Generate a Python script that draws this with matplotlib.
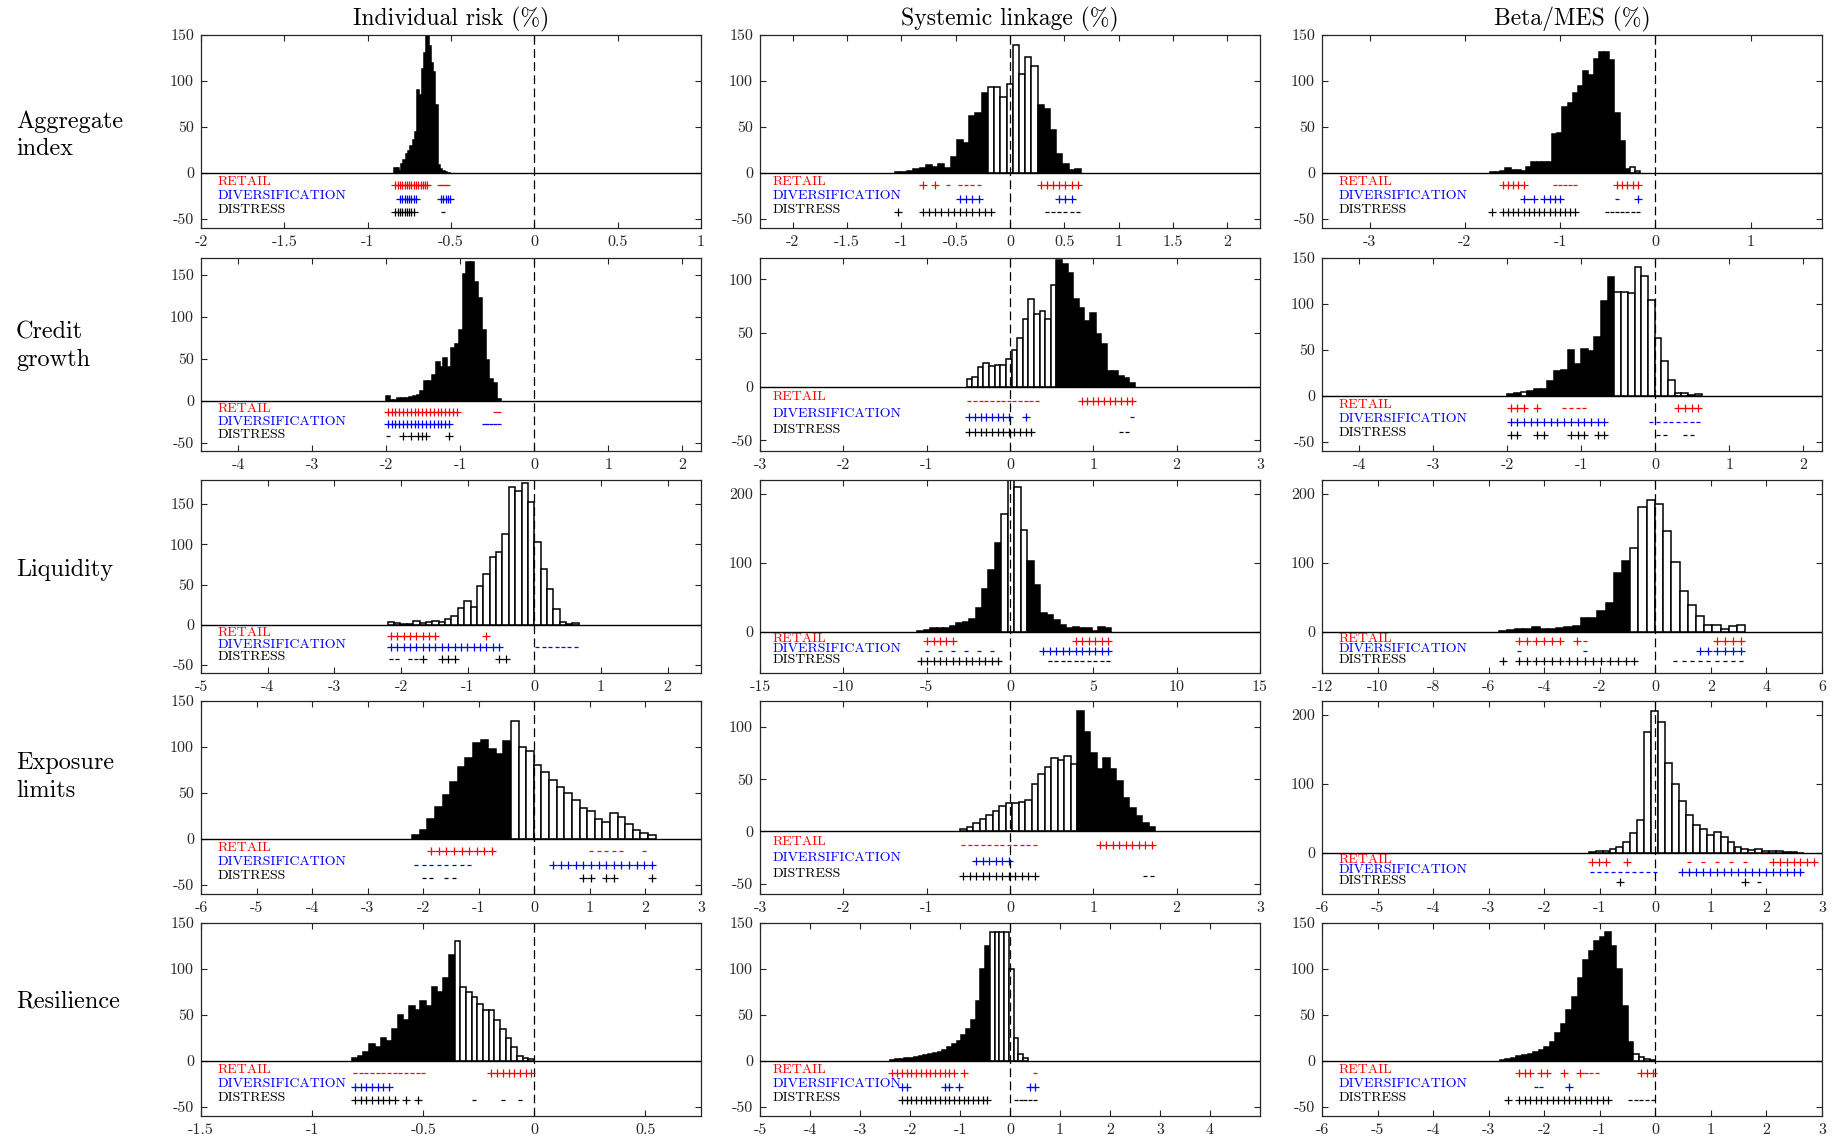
import numpy as np
import matplotlib
matplotlib.use("Agg")
import matplotlib.pyplot as plt
import matplotlib.transforms as mtransforms

plt.rcParams['font.family'] = ['cmr10', 'DejaVu Serif']
plt.rcParams['axes.unicode_minus'] = False

col_titles = ['Individual risk (%)', 'Systemic linkage (%)', 'Beta/MES (%)']
row_labels = ['Aggregate\nindex', 'Credit\ngrowth', 'Liquidity', 'Exposure\nlimits', 'Resilience']
mark_labels = ['RETAIL', 'DIVERSIFICATION', 'DISTRESS']
mark_colors = ['#ff0000', '#0000ff', '#000000']

# ---------------- Row 1 : Aggregate index ----------------
agg_ind_start, agg_ind_width = -0.84, 0.0137
agg_ind_counts = [5, 5, 2, 10, 14, 20, 24, 29, 36, 45, 90, 85, 113, 130, 160, 138, 120, 110, 74, 9, 4, 2, 1, 0, 0]
agg_ind_fill = 'b' * 25
agg_ind_retail = '+' * 15 + ' ' * 4 + '-' * 5
agg_ind_div = '  ' + '+' * 8 + ' ' * 10 + '+' * 5
agg_ind_dist = '+' * 9 + ' ' * 12 + '-'

agg_sys_start, agg_sys_width = -1.06, 0.0571
agg_sys_counts = [1, 0.5, 2, 4, 5, 9, 6, 10, 5, 17, 36, 32, 62, 65, 87, 93, 93, 82, 97, 139, 108, 126, 116, 74, 70, 47, 21, 10, 3, 4]
agg_sys_fill = 'b' * 15 + 'w' * 8 + 'b' * 7
agg_sys_retail = '    + + - ----' + ' ' * 9 + '+' * 7
agg_sys_div = ' ' * 10 + '++++' + ' ' * 12 + '+++'
agg_sys_dist = '+   ' + '+' * 12 + ' ' * 8 + '-' * 6

agg_beta_start, agg_beta_width = -1.738, 0.0545
agg_beta_counts = [1, 0.5, 2, 5, 3.5, 3, 2, 6, 12, 12, 12, 12, 42, 43, 72, 76, 87, 94, 111, 106, 124, 131, 131, 123, 65, 35, 4, 6, 2]
agg_beta_fill = 'b' * 27 + 'w' * 2
agg_beta_retail = '  +++++     -----       +++++'
agg_beta_div = '      +-+ ++++          -   +'
agg_beta_dist = '+ ' + '+' * 15 + ' ' * 5 + '-' * 7

# ---------------- Row 2 : Credit growth ----------------
cred_ind_start, cred_ind_width = -2.005, 0.0518
cred_ind_counts = [5, 1, 1, 3, 3, 3, 4, 6, 7, 11, 23, 23, 30, 46, 40, 51, 40, 63, 68, 84, 151, 165, 165, 141, 122, 84, 48, 26, 21, 2]
cred_ind_fill = 'b' * 30
cred_ind_retail = '+' * 19 + ' ' * 9 + '--'
cred_ind_div = '+' * 17 + ' ' * 8 + '-' * 5
cred_ind_dist = '-   + + +++     +'

cred_sys_start, cred_sys_width = -0.52, 0.0673
cred_sys_counts = [7, 9, 18, 22, 19, 20, 20, 26, 34, 45, 63, 82, 68, 71, 63, 95, 118, 114, 106, 82, 73, 61, 69, 49, 40, 15, 15, 10, 8, 3]
cred_sys_fill = 'w' * 16 + 'b' * 14
cred_sys_retail = '-' * 13 + ' ' * 7 + '+' * 10
cred_sys_div = '+' * 8 + '  +' + ' ' * 18 + '-'
cred_sys_dist = '+' * 12 + ' ' * 15 + '--'

cred_beta_start, cred_beta_width = -2.0, 0.0905
cred_beta_counts = [2, 3, 4, 5, 8, 8, 16, 27, 28, 50, 35, 51, 49, 64, 103, 129, 113, 113, 112, 140, 130, 104, 63, 38, 17, 3, 3, 1, 2]
cred_beta_fill = 'bbw' + 'b' * 13 + 'w' * 13
cred_beta_retail = '+++ +   ----' + ' ' * 13 + '++++'
cred_beta_div = '+' * 15 + ' ' * 6 + '-' * 8
cred_beta_dist = '++  ++   +++ ++       --  --'

# ---------------- Row 3 : Liquidity ----------------
liq_ind_start, liq_ind_width = -2.2, 0.0956
liq_ind_counts = [3, 2, 0.5, 1, 5, 2.5, 4, 5, 4, 7, 11, 21, 29, 22, 48, 63, 84, 90, 113, 171, 166, 176, 153, 103, 69, 45, 19, 3, 1, 2]
liq_ind_fill = 'w' * 30
liq_ind_retail = '+' * 8 + ' ' * 7 + '+'
liq_ind_div = '+' * 18 + ' ' * 5 + '-' * 7
liq_ind_dist = '-- --+  +++      ++'

liq_sys_start, liq_sys_width = -5.56, 0.388
liq_sys_counts = [1, 2.5, 6, 5, 5, 8, 12, 14, 18, 34, 62, 90, 128, 171, 235, 210, 147, 103, 68, 27, 24, 17, 9, 5, 7, 6, 5, 1, 7, 5]
liq_sys_fill = 'b' * 13 + 'w' * 4 + 'b' * 13
liq_sys_retail = ' +++++' + ' ' * 18 + '+' * 6
liq_sys_div = ' - - - - - -' + ' ' * 7 + '+' * 11
liq_sys_dist = '+' * 13 + ' ' * 7 + '-' * 10

liq_beta_start, liq_beta_width = -5.64, 0.296
liq_beta_counts = [1.5, 2.5, 4, 4, 7, 4.5, 4, 6, 7, 8, 20, 20, 30, 42, 85, 102, 122, 181, 191, 185, 146, 101, 59, 38, 23, 10, 9, 4, 8, 10]
liq_beta_fill = 'b' * 16 + 'w' * 14
liq_beta_retail = '  ++++++ +-' + ' ' * 15 + '++++'
liq_beta_div = '  -       -' + ' ' * 13 + '+' * 6
liq_beta_dist = '+ ' + '+' * 15 + ' ' * 4 + '-' * 9

# ---------------- Row 4 : Exposure limits ----------------
exp_ind_start, exp_ind_width = -2.2, 0.137
exp_ind_counts = [4, 10, 22, 35, 48, 62, 78, 88, 104, 108, 98, 92, 106, 128, 100, 96, 80, 73, 64, 56, 50, 42, 34, 30, 22, 18, 28, 24, 16, 10, 6, 4]
exp_ind_fill = 'b' * 13 + 'w' * 19
exp_ind_retail = '  ' + '+' * 9 + ' ' * 12 + '-----  -'
exp_ind_div = '-' * 8 + ' ' * 10 + '+' * 14
exp_ind_dist = ' -- --' + ' ' * 16 + '++ ++    +'

exp_sys_start, exp_sys_width = -0.6, 0.078
exp_sys_counts = [2, 4, 8, 12, 16, 20, 24, 27, 27, 28, 30, 45, 55, 62, 70, 68, 72, 65, 115, 95, 75, 60, 70, 60, 48, 32, 22, 15, 8, 4]
exp_sys_fill = 'w' * 18 + 'b' * 12
exp_sys_retail = '-' * 12 + ' ' * 9 + '+' * 9
exp_sys_div = '  ' + '+' * 6
exp_sys_dist = '+' * 12 + ' ' * 16 + '--'

exp_beta_start, exp_beta_width = -1.2, 0.125
exp_beta_counts = [1, 2, 3, 5, 8, 15, 28, 48, 175, 205, 190, 130, 100, 75, 55, 40, 35, 25, 30, 22, 15, 8, 5, 4, 6, 3, 2, 2, 1, 1, 0]
exp_beta_fill = 'w' * 31
exp_beta_retail = '+++  +' + ' ' * 8 + '- - - - - ' + ' ' * 2 + '+' * 7
exp_beta_div = '-' * 10 + '   ' + '+' * 18
exp_beta_dist = '    +' + ' ' * 17 + '+ -'

# ---------------- Row 5 : Resilience ----------------
res_ind_start, res_ind_width = -0.82, 0.0256
res_ind_counts = [3, 5, 10, 18, 15, 25, 22, 35, 50, 45, 60, 55, 65, 60, 80, 75, 90, 115, 130, 80, 75, 70, 62, 55, 55, 45, 35, 25, 15, 5, 3, 2]
res_ind_fill = 'b' * 18 + 'w' * 14
res_ind_retail = '-' * 13 + ' ' * 11 + '+' * 8
res_ind_div = '+' * 7
res_ind_dist = '+' * 8 + ' + +' + ' ' * 9 + '-    -  -'

res_sys_start, res_sys_width = -2.4, 0.095
res_sys_counts = [1, 2, 2, 3, 3, 4, 5, 6, 8, 9, 10, 12, 15, 18, 22, 28, 35, 45, 65, 100, 125, 140, 140, 140, 140, 100, 25, 8, 3]
res_sys_fill = 'b' * 21 + 'w' * 8
res_sys_retail = '+' * 14 + ' +' + ' ' * 14 + '-'
res_sys_div = '  ++' + ' ' * 7 + '++ +' + ' ' * 14 + '++'
res_sys_dist = '  ' + '+' * 19 + ' ' * 5 + '-----'

res_beta_start, res_beta_width = -2.8, 0.1
res_beta_counts = [1, 2, 3, 5, 6, 8, 10, 12, 15, 20, 30, 40, 55, 70, 90, 110, 120, 130, 135, 140, 125, 100, 60, 20, 8, 4, 2, 1]
res_beta_fill = 'b' * 24 + 'w' * 4
res_beta_retail = '   +++ ++  +  +---' + ' ' * 7 + '+++'
res_beta_div = '      --    +'
res_beta_dist = ' + ' + '+' * 17 + ' ' * 3 + '-----'

# axis limits and ticks
xlims = [[(-2, 1), (-2.3, 2.3), (-3.5, 1.75)],
         [(-4.5, 2.25), (-3, 3), (-4.5, 2.25)],
         [(-5, 2.5), (-15, 15), (-12, 6)],
         [(-6, 3), (-3, 3), (-6, 3)],
         [(-1.5, 0.75), (-5, 5), (-6, 3)]]
xticks = [[[-2, -1.5, -1, -0.5, 0, 0.5, 1], [-2, -1.5, -1, -0.5, 0, 0.5, 1, 1.5, 2], [-3, -2, -1, 0, 1]],
          [[-4, -3, -2, -1, 0, 1, 2], [-3, -2, -1, 0, 1, 2, 3], [-4, -3, -2, -1, 0, 1, 2]],
          [[-5, -4, -3, -2, -1, 0, 1, 2], [-15, -10, -5, 0, 5, 10, 15], [-12, -10, -8, -6, -4, -2, 0, 2, 4, 6]],
          [[-6, -5, -4, -3, -2, -1, 0, 1, 2, 3], [-3, -2, -1, 0, 1, 2, 3], [-6, -5, -4, -3, -2, -1, 0, 1, 2, 3]],
          [[-1.5, -1, -0.5, 0, 0.5], [-5, -4, -3, -2, -1, 0, 1, 2, 3, 4], [-6, -5, -4, -3, -2, -1, 0, 1, 2, 3]]]
ylims = [[(-60, 150), (-60, 150), (-60, 150)],
         [(-60, 170), (-60, 120), (-60, 150)],
         [(-60, 180), (-60, 220), (-60, 220)],
         [(-60, 150), (-60, 125), (-60, 220)],
         [(-60, 150), (-60, 150), (-60, 150)]]
yt5 = [-50, 0, 50, 100, 150]
yticks = [[yt5, yt5, yt5],
          [yt5, [-50, 0, 50, 100], yt5],
          [yt5, [0, 100, 200], [0, 100, 200]],
          [yt5, [-50, 0, 50, 100], [0, 100, 200]],
          [yt5, yt5, yt5]]

def P(prefix):
    g = globals()
    return dict(start=g[prefix + '_start'], width=g[prefix + '_width'],
                counts=g[prefix + '_counts'], fill=g[prefix + '_fill'],
                marks=(g[prefix + '_retail'], g[prefix + '_div'], g[prefix + '_dist']))

panels = [[P('agg_ind'), P('agg_sys'), P('agg_beta')],
          [P('cred_ind'), P('cred_sys'), P('cred_beta')],
          [P('liq_ind'), P('liq_sys'), P('liq_beta')],
          [P('exp_ind'), P('exp_sys'), P('exp_beta')],
          [P('res_ind'), P('res_sys'), P('res_beta')]]

W, H = 1837, 1144
fig = plt.figure(figsize=(W / 100, H / 100), dpi=100)
col_left = [201, 760, 1322]
col_w = 500
row_top = [35, 258, 480, 701, 923]
row_h = 193
row_label_y = [135, 346, 570, 777, 1001]
lab_off = [0.034, 0.025, 0.034]
mark_y = [-13.5, -28, -42.5]
lab_y = [-10, -25, -40.5]
gray = '#262626'

def fmt(v):
    return ('%g' % v)

for r in range(5):
    for c in range(3):
        ax = fig.add_axes([col_left[c] / W, 1 - (row_top[r] + row_h) / H, col_w / W, row_h / H])
        p = panels[r][c]
        n = len(p['counts'])
        centers = p['start'] + p['width'] * (np.arange(n) + 0.5)
        colors = ['black' if f == 'b' else 'white' for f in p['fill']]
        ax.bar(centers, p['counts'], width=p['width'], color=colors,
               edgecolor='black', linewidth=1.1, zorder=2)
        ax.axhline(0, color='black', lw=1.0, zorder=3)
        ax.axvline(0, color='black', lw=0.9, dashes=(7, 3.5), zorder=4)
        trans = mtransforms.blended_transform_factory(ax.transAxes, ax.transData)
        for k in range(3):
            s = p['marks'][k]
            col = mark_colors[k]
            for i, ch in enumerate(s):
                if ch == ' ':
                    continue
                x = p['start'] + p['width'] * (i + 0.5)
                if ch == '+':
                    ax.plot([x], [mark_y[k]], marker='+', ms=5.4, mew=0.9, color=col, zorder=5)
                else:
                    ax.plot([x], [mark_y[k]], marker='_', ms=2.8, mew=0.9, color=col, zorder=5)
            ax.text(lab_off[c], lab_y[k], mark_labels[k], transform=trans, color=col,
                    fontsize=10, va='center', ha='left', zorder=6)
        ax.set_xlim(*xlims[r][c])
        ax.set_ylim(*ylims[r][c])
        ax.set_xticks(xticks[r][c])
        ax.set_xticklabels([fmt(v) for v in xticks[r][c]])
        ax.set_yticks(yticks[r][c])
        ax.set_yticklabels([fmt(v) for v in yticks[r][c]])
        ax.tick_params(direction='in', top=True, right=True, length=4, width=0.8,
                       colors=gray, labelsize=11.5, pad=5)
        for sp in ax.spines.values():
            sp.set_color(gray)
            sp.set_linewidth(0.9)
        if r == 0:
            fig.text((col_left[c] + col_w / 2) / W, 1 - 19 / H, col_titles[c],
                     ha='center', va='center', fontsize=17)
    fig.text(16 / W, 1 - row_label_y[r] / H, row_labels[r],
             ha='left', va='center', fontsize=17.5, linespacing=1.3)

fig.savefig('out.png', dpi=100)
